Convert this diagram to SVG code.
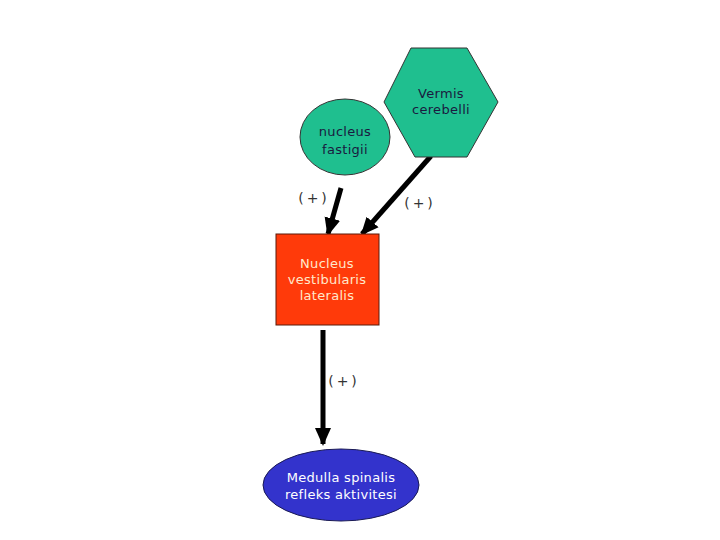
<svg xmlns="http://www.w3.org/2000/svg" width="720" height="540" viewBox="0 0 720 540">
<style>
.lbl{font-family:"DejaVu Sans",Verdana,sans-serif;font-size:13px;text-anchor:middle;letter-spacing:0.3px}
.plus{font-family:"DejaVu Sans",sans-serif;font-size:14px;fill:#333;text-anchor:middle;letter-spacing:3px}
.arr{stroke:#000;stroke-width:5;fill:none;marker-end:url(#ah)}
</style>
<defs>
<marker id="ah" markerUnits="userSpaceOnUse" markerWidth="18" markerHeight="18" refX="16" refY="8" orient="auto" viewBox="0 0 18 16">
<path d="M0,0 L18,8 L0,16 z" fill="#000"/>
</marker>
</defs>
<rect width="720" height="540" fill="#fff"/>
<g id="connectors">
<line class="arr" x1="341" y1="188" x2="328" y2="234"/>
<line class="arr" x1="431" y1="156" x2="362" y2="234"/>
<line class="arr" x1="323" y1="330" x2="323" y2="444"/>
<text class="plus" x="314" y="203">(+)</text>
<text class="plus" x="420" y="208">(+)</text>
<text class="plus" x="344" y="386">(+)</text>
</g>
<g id="vermis">
<polygon points="411,48 467,48 498,102 467,157 415,157 384,102" fill="#1fbf8f" stroke="#333" stroke-width="1"/>
<text class="lbl" x="441" y="98" fill="#1a1a40">Vermis</text>
<text class="lbl" x="441" y="114" fill="#1a1a40">cerebelli</text>
</g>
<g id="fastigii">
<ellipse cx="345" cy="137" rx="45" ry="38" fill="#1fbf8f" stroke="#333" stroke-width="1"/>
<text class="lbl" x="345" y="136" fill="#1a1a40">nucleus</text>
<text class="lbl" x="345" y="154" fill="#1a1a40">fastigii</text>
</g>
<g id="vestibularis">
<rect x="276" y="234" width="103" height="91" fill="#ff3a0a" stroke="#5a1a0a" stroke-width="1"/>
<text class="lbl" x="327" y="268" fill="#ffe8cc">Nucleus</text>
<text class="lbl" x="327" y="284" fill="#ffe8cc">vestibularis</text>
<text class="lbl" x="327" y="300" fill="#ffe8cc">lateralis</text>
</g>
<g id="medulla">
<ellipse cx="341" cy="485" rx="78" ry="36" fill="#3333cc" stroke="#1a1a55" stroke-width="1"/>
<text class="lbl" x="341" y="482" fill="#fff">Medulla spinalis</text>
<text class="lbl" x="341" y="499" fill="#fff">refleks aktivitesi</text>
</g>
</svg>
